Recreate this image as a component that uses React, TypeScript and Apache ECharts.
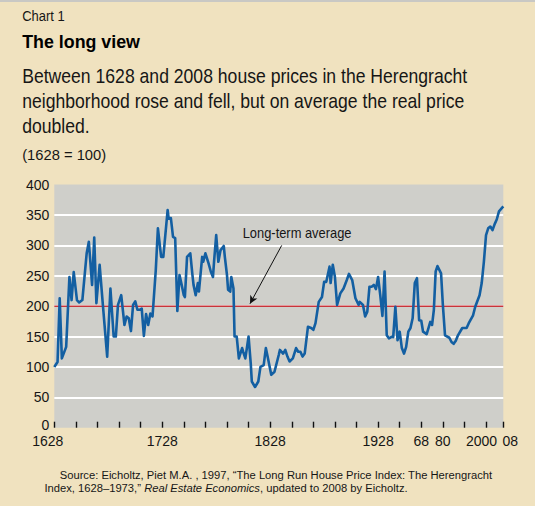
import React, { useEffect, useRef } from "react";
import * as echarts from "echarts";

// ---- Data (Herengracht index, 1628 = 100) ----
const YEARS = [
  1628, 1631, 1633, 1635, 1639, 1642, 1644, 1646, 1649, 1651, 1654, 1658, 1660, 1663, 1665, 1667, 1670, 1673, 1677, 1680,
  1683, 1685, 1687, 1690, 1693, 1695, 1697, 1699, 1701, 1703, 1705, 1707, 1709, 1711, 1713, 1715, 1717, 1719, 1722, 1724,
  1727, 1729, 1733, 1734, 1736, 1738, 1740, 1742, 1744, 1746, 1748, 1749, 1751, 1754, 1756, 1757, 1759, 1761, 1762, 1765,
  1766, 1768, 1771, 1773, 1775, 1776, 1778, 1780, 1782, 1785, 1786, 1788, 1789, 1791, 1792, 1794, 1795, 1797, 1799, 1802,
  1803, 1805, 1808, 1810, 1811, 1814, 1817, 1819, 1822, 1824, 1826, 1829, 1832, 1836, 1837, 1840, 1842, 1844, 1846, 1849,
  1852, 1854, 1856, 1858, 1860, 1863, 1866, 1868, 1870, 1873, 1876, 1878, 1880, 1883, 1884, 1886, 1888, 1890, 1893, 1896,
  1899, 1901, 1904, 1907, 1910, 1911, 1914, 1916, 1918, 1920, 1922, 1924, 1926, 1928, 1930, 1932, 1934, 1936, 1938, 1941,
  1942, 1944, 1946, 1948, 1950, 1952, 1954, 1956, 1958, 1960, 1962, 1964, 1966, 1968, 1969, 1971, 1972, 1973, 1974, 1975,
  1976, 1977, 1979, 1980, 1981, 1983, 1984, 1985, 1986, 1987, 1989, 1991, 1992, 1994, 1995, 1997, 1998, 1999, 2000, 2001,
  2002, 2003, 2004, 2005, 2006, 2008,
];
const INDEX = [
  100, 108, 213, 114, 133, 248, 210, 256, 210, 206, 210, 287, 306, 235, 313, 205, 268, 202, 117, 229,
  150, 150, 202, 218, 169, 183, 180, 159, 202, 208, 194, 194, 196, 151, 187, 169, 188, 183, 259, 328,
  281, 281, 358, 344, 345, 314, 312, 192, 251, 235, 218, 215, 281, 287, 251, 235, 218, 238, 224, 281,
  273, 287, 270, 257, 248, 273, 317, 273, 292, 299, 281, 251, 227, 224, 248, 229, 150, 150, 114, 131,
  125, 114, 150, 106, 76, 67, 76, 100, 103, 131, 114, 87, 92, 120, 128, 122, 128, 117, 109, 114,
  131, 125, 125, 117, 122, 166, 164, 161, 172, 207, 215, 240, 240, 265, 238, 268, 248, 202, 221, 229,
  243, 253, 243, 213, 202, 207, 202, 183, 191, 232, 232, 235, 228, 248, 218, 184, 257, 152, 147, 150,
  149, 199, 144, 158, 131, 122, 133, 158, 164, 180, 238, 246, 177, 176, 158, 154, 164, 174, 169, 194,
  257, 266, 254, 202, 152, 148, 141, 138, 143, 152, 164, 164, 172, 185, 199, 218, 238, 273, 317, 328,
  331, 325, 335, 343, 356, 364,
];
const LONG_TERM_AVERAGE = 200;

// Axis (the original's time scale is stretched after 1968)
const AXIS_ANCHOR_YEARS = [1628, 1968, 1980, 2008];
const AXIS_ANCHOR_POS = [0, 17, 18, 20.8];
const LABEL_YEARS = [1628, 1728, 1828, 1928, 1968, 1980, 2000, 2008];
const LABEL_TEXTS = ["1628", "1728", "1828", "1928", "68", "80", "2000", "08"];
const EXTRA_TICK_YEARS = [1980, 1990, 2000, 2008];
const Y_MIN = 0;
const Y_MAX = 400;
const Y_STEP = 50;

// Annotation arrow, in data space [year, index]
const ARROW_FROM = [1838.7, 300];
const ARROW_TO = [1809.3, 204];

// Texts
const KICKER = "Chart 1";
const TITLE = "The long view";
const SUBTITLE = [
  "Between 1628 and 2008 house prices in the Herengracht",
  "neighborhood rose and fell, but on average the real price",
  "doubled.",
];
const UNIT = "(1628 = 100)";
const ANNOTATION = "Long-term average";
const SOURCE_1 = "Source: Eicholtz, Piet M.A. , 1997, \u201cThe Long Run House Price Index: The Herengracht";
const SOURCE_2A = "Index, 1628\u20131973,\u201d ";
const SOURCE_2B = "Real Estate Economics";
const SOURCE_2C = ", updated to 2008 by Eicholtz.";

const FONT = "'Liberation Sans', Arial, Helvetica, sans-serif";
const INK = "#161616";
const BEIGE = "#f0e2bf";
const PLOT_BG = "#cfcfca";
const BLUE = "#135fa2";
const RED = "#c8353a";

function yearToPos(y: number): number {
  for (let i = 0; i < AXIS_ANCHOR_YEARS.length - 1; i++) {
    const y0 = AXIS_ANCHOR_YEARS[i];
    const y1 = AXIS_ANCHOR_YEARS[i + 1];
    if (y <= y1 || i === AXIS_ANCHOR_YEARS.length - 2) {
      const p0 = AXIS_ANCHOR_POS[i];
      const p1 = AXIS_ANCHOR_POS[i + 1];
      return p0 + ((y - y0) / (y1 - y0)) * (p1 - p0);
    }
  }
  return 0;
}

let measureCtx: CanvasRenderingContext2D | null = null;
function measure(text: string, size: number, weight = "normal", style = "normal"): number {
  if (!measureCtx) measureCtx = document.createElement("canvas").getContext("2d");
  if (!measureCtx) return text.length * size * 0.5;
  measureCtx.font = `${style} ${weight} ${size}px ${FONT}`;
  return measureCtx.measureText(text).width;
}

export default function App() {
  const ref = useRef<HTMLDivElement>(null);

  useEffect(() => {
    document.body.style.margin = "0";
    if (!ref.current) return;
    const chart = echarts.init(ref.current, null, { renderer: "svg" });

    const tickYears: number[] = [];
    for (let y = AXIS_ANCHOR_YEARS[0]; y <= 1968; y += 20) tickYears.push(y);
    EXTRA_TICK_YEARS.forEach((y) => tickYears.push(y));
    const tickPos = tickYears.map(yearToPos);
    const labelPos = LABEL_YEARS.map(yearToPos);

    const lineData = YEARS.map((y, i) => [yearToPos(y), INDEX[i]]);
    const xMin = yearToPos(AXIS_ANCHOR_YEARS[0]);
    const xMax = yearToPos(AXIS_ANCHOR_YEARS[AXIS_ANCHOR_YEARS.length - 1]);

    const textStyleBase = { fontFamily: FONT, fill: INK };

    const subSize = 20;
    const subScale = 445 / measure(SUBTITLE[0], subSize);
    const srcSize = 11.5;
    const srcScale = 433 / measure(SOURCE_1, srcSize);

    const rich = {
      n: { fontSize: 14, fontFamily: FONT, color: INK },
      s: { fontSize: 14, fontFamily: FONT, color: INK, padding: [0, 13, 0, 0] },
      l: { fontSize: 14, fontFamily: FONT, color: INK, padding: [0, 9, 0, 0] },
      r: { fontSize: 14, fontFamily: FONT, color: INK, padding: [0, 0, 0, 14] },
    };

    chart.setOption({
      animation: false,
      backgroundColor: BEIGE,
      textStyle: { fontFamily: FONT },
      grid: {
        left: 54.3,
        right: 31.7,
        top: 184.6,
        bottom: 78.3,
        show: true,
        backgroundColor: PLOT_BG,
        borderWidth: 0,
        containLabel: false,
      },
      xAxis: {
        type: "value",
        min: xMin,
        max: xMax,
        axisLine: { show: false },
        splitLine: { show: false },
        axisTick: {
          show: true,
          inside: true,
          length: 6,
          customValues: tickPos,
          lineStyle: { color: "#111", width: 1.4 },
        },
        axisLabel: {
          customValues: labelPos,
          margin: 6,
          fontSize: 14,
          color: INK,
          fontFamily: FONT,
          formatter: (v: number) => {
            let best = 0;
            labelPos.forEach((p, i) => {
              if (Math.abs(p - v) < Math.abs(labelPos[best] - v)) best = i;
            });
            const t = LABEL_TEXTS[best];
            const key = best === 0 ? "s" : t === "2000" ? "l" : best === LABEL_TEXTS.length - 1 ? "r" : "n";
            return `{${key}|${t}}`;
          },
          rich,
        },
      },
      yAxis: {
        type: "value",
        min: Y_MIN,
        max: Y_MAX,
        interval: Y_STEP,
        axisLine: { show: false },
        axisTick: { show: false },
        axisLabel: {
          fontSize: 14,
          color: INK,
          fontFamily: FONT,
          margin: 5,
          formatter: (v: number) => (v === Y_MIN ? `{z|${v}}` : `{n|${v}}`),
          rich: {
            n: { fontSize: 14, fontFamily: FONT, color: INK },
            z: { fontSize: 14, fontFamily: FONT, color: INK, padding: [0, 0, 6, 0] },
          },
        },
        splitLine: {
          show: true,
          showMinLine: false,
          showMaxLine: false,
          lineStyle: { color: "#ffffff", width: 2 },
        },
      },
      series: [
        {
          name: "Long-term average",
          type: "line",
          z: 1,
          data: [
            [xMin, LONG_TERM_AVERAGE],
            [xMax, LONG_TERM_AVERAGE],
          ],
          showSymbol: false,
          symbol: "none",
          lineStyle: { color: RED, width: 1.5 },
          silent: true,
          markLine: {
            silent: true,
            symbol: ["none", "arrow"],
            symbolSize: [6, 8],
            label: { show: false },
            lineStyle: { color: "#111", width: 1, type: "solid" },
            data: [
              [
                { coord: [yearToPos(ARROW_FROM[0]), ARROW_FROM[1]] },
                { coord: [yearToPos(ARROW_TO[0]), ARROW_TO[1]] },
              ],
            ],
          },
        },
        {
          name: "Herengracht index",
          type: "line",
          z: 3,
          data: lineData,
          showSymbol: false,
          symbol: "none",
          lineStyle: { color: BLUE, width: 2.6, join: "round" },
        },
      ],
      graphic: [
        { type: "rect", shape: { x: 0, y: 0, width: 535, height: 2 }, style: { fill: "#c9c8c4" } },
        {
          type: "text",
          x: 22.2,
          y: 16.3,
          scaleX: 42.6 / measure(KICKER, 14),
          style: { ...textStyleBase, text: KICKER, fontSize: 14, verticalAlign: "middle", align: "left" },
        },
        {
          type: "text",
          x: 22.2,
          y: 41,
          scaleX: 117.8 / measure(TITLE, 19, "bold"),
          style: {
            ...textStyleBase,
            text: TITLE,
            fontSize: 19,
            fontWeight: "bold",
            fill: "#000",
            verticalAlign: "middle",
            align: "left",
          },
        },
        ...SUBTITLE.map((t, i) => ({
          type: "text",
          x: 22.2,
          y: 76.2 + i * 24.7,
          scaleX: subScale,
          style: { ...textStyleBase, text: t, fontSize: subSize, verticalAlign: "middle", align: "left" },
        })),
        {
          type: "text",
          x: 22.2,
          y: 154.7,
          scaleX: 84 / measure(UNIT, 14),
          style: { ...textStyleBase, text: UNIT, fontSize: 14, verticalAlign: "middle", align: "left" },
        },
        {
          type: "text",
          x: 242.7,
          y: 233.3,
          scaleX: 109 / measure(ANNOTATION, 14),
          style: { ...textStyleBase, text: ANNOTATION, fontSize: 14, verticalAlign: "middle", align: "left" },
        },
        {
          type: "text",
          x: 59.7,
          y: 474.6,
          scaleX: srcScale,
          style: { ...textStyleBase, text: SOURCE_1, fontSize: srcSize, verticalAlign: "middle", align: "left" },
        },
        {
          type: "text",
          x: 44.4,
          y: 488.4,
          scaleX: srcScale,
          style: {
            ...textStyleBase,
            text: `${SOURCE_2A}{i|${SOURCE_2B}}${SOURCE_2C}`,
            fontSize: srcSize,
            verticalAlign: "middle",
            align: "left",
            rich: {
              i: { fontSize: srcSize, fontFamily: FONT, fontStyle: "italic", fill: INK },
            },
          },
        },
      ],
    });

    return () => chart.dispose();
  }, []);

  return (
    <div style={{ width: 535, height: 506, background: BEIGE }}>
      <div ref={ref} style={{ width: 535, height: 506 }} />
    </div>
  );
}
